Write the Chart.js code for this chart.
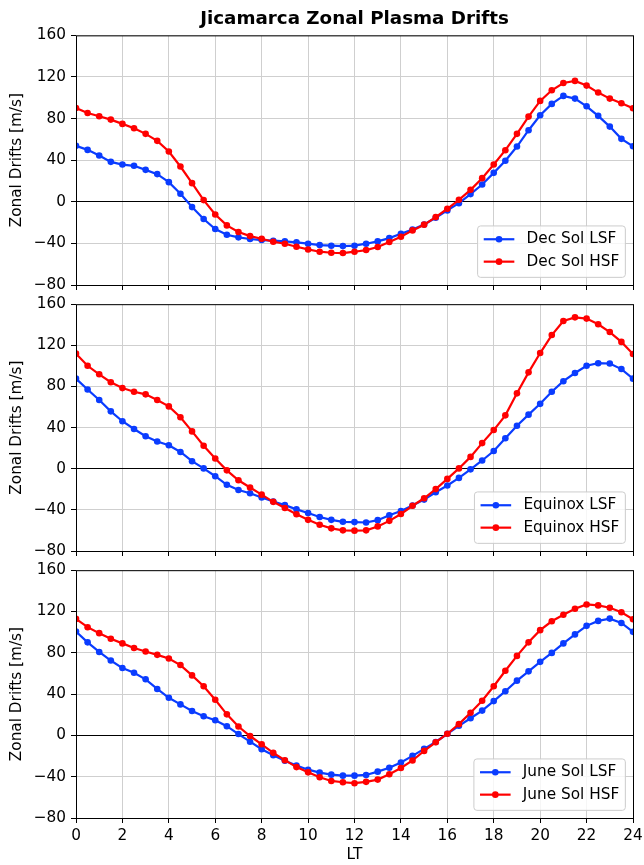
<!DOCTYPE html>
<html lang="en">
<head>
    <meta charset="UTF-8">
    <title>Jicamarca Zonal Plasma Drifts</title>
    <script src="https://cdn.jsdelivr.net/npm/chart.js"></script>
    <style>
        body { margin: 0; background: #fff; }
        .wrap { position: relative; width: 644px; height: 865px; }
        .wrap canvas { position: absolute; left: 0; }
    </style>
</head>
<body>
    <div class="wrap">
        <canvas id="decChart" width="644" height="300" style="top:0px"></canvas>
        <canvas id="eqChart" width="644" height="276" style="top:290px"></canvas>
        <canvas id="junChart" width="644" height="309" style="top:556px"></canvas>
    </div>
    <script>
        // local time (hours), one point every half hour
        const lt = [0, 0.5, 1, 1.5, 2, 2.5, 3, 3.5, 4, 4.5, 5, 5.5, 6, 6.5, 7, 7.5, 8, 8.5, 9, 9.5, 10, 10.5, 11, 11.5,
                    12, 12.5, 13, 13.5, 14, 14.5, 15, 15.5, 16, 16.5, 17, 17.5, 18, 18.5, 19, 19.5, 20, 20.5, 21, 21.5,
                    22, 22.5, 23, 23.5, 24];

        const decLSF = [53.8, 49.9, 44.5, 38.4, 35.8, 34.6, 30.7, 26.6, 18.9, 7.7, -5.1, -16.6, -26.2, -31.7, -34.2, -35.8,
                        -36.8, -37.4, -38.1, -39.0, -40.3, -41.6, -42.2, -42.6, -42.2, -40.3, -38.1, -34.9, -30.7, -26.6,
                        -21.8, -15.4, -8.3, -1.3, 7.4, 16.6, 27.8, 39.4, 53.1, 68.8, 83.2, 94.1, 101.8, 99.2, 91.8, 82.6,
                        72.3, 60.5, 53.4];
        const decHSF = [90.2, 85.4, 82.2, 79.0, 74.9, 70.7, 65.3, 58.6, 48.3, 33.9, 17.9, 1.6, -12.2, -22.7, -29.1, -33.0,
                        -35.5, -38.4, -40.3, -43.2, -45.8, -48.0, -49.0, -49.3, -48.0, -46.4, -43.5, -38.7, -33.6, -27.5,
                        -22.0, -14.7, -6.7, 1.9, 11.5, 22.7, 35.8, 49.6, 65.3, 81.9, 97.0, 107.2, 114.2, 116.2, 111.7,
                        105.0, 99.2, 94.7, 89.9];
        const eqLSF = [87.6, 77.1, 66.9, 55.8, 46.2, 38.6, 31.6, 26.5, 22.9, 16.3, 7.3, 0.3, -7.3, -15.6, -20.7, -23.9,
                       -28.0, -31.9, -35.4, -39.5, -43.0, -46.9, -49.7, -51.6, -51.9, -52.3, -50.0, -45.3, -41.1, -35.7,
                       -30.0, -22.9, -16.3, -8.9, -0.6, 8.0, 17.2, 29.6, 41.8, 52.6, 63.1, 74.9, 85.1, 93.1, 100.1, 102.6,
                       102.3, 96.9, 87.6];
        const eqHSF = [111.9, 100.1, 91.8, 84.1, 78.4, 74.9, 72.3, 66.9, 60.6, 50.0, 36.3, 22.3, 9.9, -1.6, -11.2, -18.2,
                       -25.2, -32.2, -38.2, -44.3, -49.7, -54.5, -58.0, -59.9, -60.2, -59.9, -56.1, -50.7, -44.0, -36.0,
                       -28.7, -19.8, -9.9, 0.3, 11.5, 24.9, 37.6, 51.9, 73.3, 93.7, 112.5, 130.0, 143.7, 147.2, 146.0,
                       140.5, 132.9, 123.3, 111.5];
        const junLSF = [100.6, 90.1, 80.8, 72.5, 65.2, 60.7, 54.3, 45.0, 36.4, 30.0, 23.6, 18.5, 14.7, 8.9, 1.3, -6.1,
                        -13.4, -19.2, -24.6, -29.1, -33.2, -36.1, -38.0, -39.0, -39.0, -38.3, -35.1, -31.3, -26.2, -19.8,
                        -13.1, -6.4, 1.6, 9.3, 16.6, 24.0, 33.2, 42.8, 53.0, 62.0, 71.2, 79.9, 89.1, 97.8, 106.1, 110.9,
                        113.1, 108.9, 100.3];
        const junHSF = [112.8, 104.8, 99.0, 93.6, 89.1, 84.7, 81.2, 78.0, 74.4, 68.1, 58.1, 47.6, 34.5, 20.4, 8.6, -0.6,
                        -8.6, -16.9, -24.0, -30.7, -35.8, -40.6, -44.1, -45.4, -46.3, -45.0, -42.8, -37.7, -31.6, -24.3,
                        -15.0, -6.7, 1.6, 10.9, 22.0, 33.5, 47.6, 62.6, 77.0, 90.1, 101.9, 110.5, 116.9, 122.7, 126.8,
                        125.9, 123.6, 119.2, 112.5];

        const yTicks = [-80, -40, 0, 40, 80, 120, 160];
        const xTicks = [0, 2, 4, 6, 8, 10, 12, 14, 16, 18, 20, 22, 24];

        const BLUE = '#0a3cff';
        const RED = '#ff0000';
        const FS = 15.3;

        Chart.defaults.font.family = "'DejaVu Sans', sans-serif";
        Chart.defaults.font.size = FS;
        Chart.defaults.color = '#000';

        // axes frame + matplotlib style legend in the lower right corner
        const frameAndLegend = {
            id: 'frameAndLegend',
            afterDatasetsDraw(chart) {
                const { ctx, chartArea: a } = chart;
                ctx.save();
                ctx.strokeStyle = '#000';
                ctx.lineWidth = 1;
                ctx.strokeRect(a.left + 0.5, a.top + 0.5, a.right - a.left, a.bottom - a.top);

                ctx.font = FS + "px 'DejaVu Sans'";
                const sets = chart.data.datasets;
                const textW = Math.max(...sets.map(d => ctx.measureText(d.label).width));
                const bp = 0.4 * FS, hl = 2 * FS, hp = 0.8 * FS;
                const w = bp + hl + hp + textW + bp;
                const h = 51.4;
                const x0 = a.right - 0.5 * FS - w;
                const y0 = a.bottom - 0.5 * FS - h;

                ctx.beginPath();
                ctx.roundRect(x0, y0, w, h, 3);
                ctx.fillStyle = 'rgba(255,255,255,0.8)';
                ctx.fill();
                ctx.strokeStyle = '#cccccc';
                ctx.stroke();

                sets.forEach((d, i) => {
                    const cy = y0 + 13.3 + i * 22.4;
                    ctx.strokeStyle = d.borderColor;
                    ctx.lineWidth = d.borderWidth;
                    ctx.beginPath();
                    ctx.moveTo(x0 + bp, cy);
                    ctx.lineTo(x0 + bp + hl, cy);
                    ctx.stroke();
                    ctx.fillStyle = d.borderColor;
                    ctx.beginPath();
                    ctx.arc(x0 + bp + hl / 2, cy, d.pointRadius, 0, Math.PI * 2);
                    ctx.fill();
                    ctx.fillStyle = '#000';
                    ctx.textBaseline = 'middle';
                    ctx.textAlign = 'left';
                    ctx.fillText(d.label, x0 + bp + hl + hp, cy);
                });
                ctx.restore();
            }
        };

        function series(label, vals, color, order) {
            return {
                label: label,
                data: lt.map((t, i) => ({ x: t, y: vals[i] })),
                borderColor: color,
                backgroundColor: color,
                pointBackgroundColor: color,
                borderWidth: 2.2,
                pointRadius: 3.3,
                pointBorderWidth: 0,
                tension: 0,
                order: order
            };
        }

        function makePanel(id, lsf, hsf, names, opt) {
            const ctx = document.getElementById(id).getContext('2d');
            return new Chart(ctx, {
                type: 'line',
                data: {
                    datasets: [
                        series(names[0], lsf, BLUE, 1),
                        series(names[1], hsf, RED, 0)
                    ]
                },
                plugins: [frameAndLegend],
                options: {
                    responsive: false,
                    animation: false,
                    layout: { padding: { left: 0, right: 11, top: opt.padTop, bottom: 0 } },
                    plugins: {
                        legend: { display: false },
                        tooltip: { enabled: false },
                        title: {
                            display: !!opt.title,
                            text: opt.title || '',
                            fullSize: false,
                            font: { size: 18.3, weight: 'bold' },
                            color: '#000',
                            padding: { top: 8.5, bottom: 4.9 }
                        }
                    },
                    scales: {
                        x: {
                            type: 'linear',
                            min: 0,
                            max: 24,
                            afterBuildTicks: s => { s.ticks = xTicks.map(v => ({ value: v })); },
                            afterFit: s => {
                                s.height = opt.xHeight;
                                s.paddingLeft = 0;
                                s.paddingRight = 0;
                            },
                            ticks: { display: opt.xLabels, padding: 4, maxRotation: 0 },
                            grid: { color: '#cfcfcf', lineWidth: 1, tickColor: '#000', tickLength: 5, drawTicks: true },
                            border: { display: false },
                            title: {
                                display: opt.xLabels,
                                text: 'LT',
                                padding: { top: 0, bottom: 0.8 }
                            }
                        },
                        y: {
                            min: -80,
                            max: 160,
                            afterBuildTicks: s => { s.ticks = yTicks.map(v => ({ value: v })); },
                            afterFit: s => { s.width = 76; },
                            ticks: {
                                padding: 5,
                                callback: v => String(v).replace('-', '\u2212')
                            },
                            grid: {
                                color: c => (c.tick && c.tick.value === 0 ? '#000' : '#cfcfcf'),
                                lineWidth: 1,
                                tickColor: '#000',
                                tickLength: 5
                            },
                            border: { display: false },
                            title: {
                                display: true,
                                text: 'Zonal Drifts [m/s]',
                                padding: { top: 8.3, bottom: 0 }
                            }
                        }
                    }
                }
            });
        }

        makePanel('decChart', decLSF, decHSF, ['Dec Sol LSF', 'Dec Sol HSF'],
            { title: 'Jicamarca Zonal Plasma Drifts', padTop: 0, xHeight: 15, xLabels: false });
        makePanel('eqChart', eqLSF, eqHSF, ['Equinox LSF', 'Equinox HSF'],
            { padTop: 10, xHeight: 15, xLabels: false });
        makePanel('junChart', junLSF, junHSF, ['June Sol LSF', 'June Sol HSF'],
            { padTop: 10, xHeight: 47, xLabels: true });
    </script>
</body>
</html>
